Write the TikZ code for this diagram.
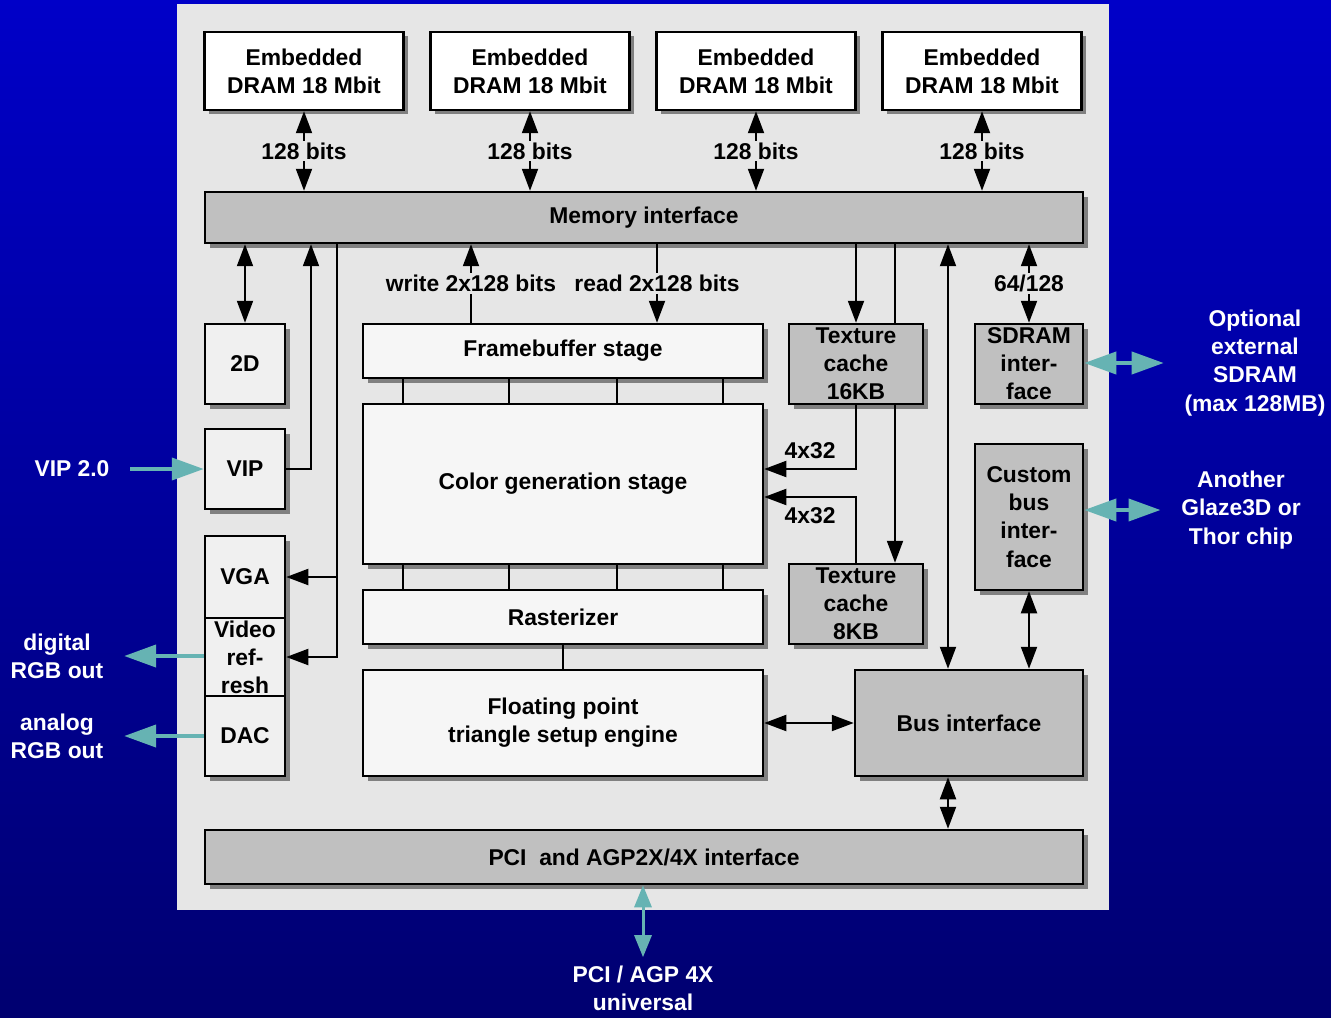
\documentclass[tikz,border=0pt]{standalone}
\usepackage{fontspec}
\setmainfont{Liberation Sans}
\usetikzlibrary{arrows.meta,shadows}

\definecolor{panelgray}{HTML}{E6E6E6}
\definecolor{boxlight}{HTML}{F0F0F0}
\definecolor{stagefill}{HTML}{F6F6F6}
\definecolor{boxdark}{HTML}{C0C0C0}
\definecolor{shadowgray}{HTML}{808080}
\definecolor{linkteal}{HTML}{66B3B3}
\definecolor{bgtop}{RGB}{0,0,200}
\definecolor{bgbottom}{RGB}{0,0,112}

\tikzset{
  wh/.style 2 args={minimum width=#1*0.02cm, minimum height=#2*0.02cm},
  box/.style={draw, line width=.05cm, inner sep=0pt, align=center,
    drop shadow={shadow xshift=.09cm, shadow yshift=-.09cm, fill=shadowgray, opacity=1}},
  ram/.style={box, fill=white},
  unit/.style={box, fill=boxlight},
  stagebox/.style={box, fill=stagefill},
  iface/.style={box, fill=boxdark},
  link/.style={line width=.04cm},
  lbl/.style={fill=panelgray, inner sep=1pt},
  note/.style={text=white, align=center, outer sep=.3cm},
  ext/.style={linkteal, line width=.08cm, >={Triangle[length=.64cm,width=.44cm]}},
  extv/.style={linkteal, line width=.06cm, >={Triangle[length=.44cm,width=.34cm]}}
}

\begin{document}
\begin{tikzpicture}[x=0.02cm, y=-0.02cm, font=\fontsize{13}{16}\selectfont\bfseries,
  >={Triangle[length=.44cm,width=.32cm]}]
\useasboundingbox (0,0) rectangle (1331,1017);
\shade[top color=bgtop, bottom color=bgbottom] (0,0) rectangle (1331,1017);
\fill[panelgray] (177,4) rectangle (1109,910);

% memories
\foreach \i/\x in {1/304,2/530,3/756,4/982}
  \node[ram, wh={199}{78}] (dram\i) at (\x,71) {Embedded\\DRAM 18 Mbit};
\node[iface, wh={878}{51}] (mem) at (644,217.5) {Memory interface};

% left column
\node[unit, wh={80}{80}] (twod) at (245,364) {2D};
\node[unit, wh={80}{80}] (vip) at (245,469) {VIP};
\node[unit, wh={80}{82}] (vga) at (245,577) {VGA};
\node[unit, wh={80}{78}] (vidref) at (245,657) {Video\\ref-\\resh};
\node[unit, wh={80}{80}] (dac) at (245,736) {DAC};

% pipeline
\node[stagebox, wh={400}{54}] (fb) at (563,351) {Framebuffer stage};
\node[stagebox, wh={400}{160}] (colgen) at (563,484) {Color generation stage};
\node[stagebox, wh={400}{54}] (rast) at (563,617) {Rasterizer};
\node[stagebox, wh={400}{106}] (fpu) at (563,723) {Floating point\\triangle setup engine};

% caches and interfaces
\node[iface, wh={134}{80}] (tex16) at (856,364) {Texture\\cache\\16KB};
\node[iface, wh={134}{80}] (tex8) at (856,604) {Texture\\cache\\8KB};
\node[iface, wh={108}{80}] (sdram) at (1029,364) {SDRAM\\inter-\\face};
\node[iface, wh={108}{146}] (custom) at (1029,517) {Custom\\bus\\inter-\\face};
\node[iface, wh={228}{106}] (busif) at (969,723) {Bus interface};
\node[iface, wh={878}{54}] (pci) at (644,857) {PCI~ and AGP2X/4X interface};

% outside
\node[note] (vipin) at (72,469) {VIP 2.0};
\node[note] (digout) at (57,656) {digital\\RGB out};
\node[note] (anaout) at (57,736) {analog\\RGB out};
\node[note] (extsdram) at (1255,363) {Optional\\external\\SDRAM\\(max 128MB)};
\node[note] (another) at (1241,510) {Another\\Glaze3D or\\Thor chip};
\node[note, outer sep=.05cm] (pcibus) at (643,988) {PCI / AGP 4X\\universal};

% connectors
\foreach \i in {1,...,4}
  \draw[link,<->] (dram\i.south) -- (dram\i.south |- mem.north) node[lbl, midway] {128 bits};
\draw[link,<->] (twod.north) -- (twod.north |- mem.south);
\draw[link,->] (vip.east) -| (311,0 |- mem.south);
\draw[link,->] (337,0 |- mem.south) |- (vga.east);
\draw[link,->] (337,0 |- mem.south) |- (vidref.east);
\draw[link,->] (471,0 |- fb.north) -- (471,0 |- mem.south) node[lbl, midway] {write 2x128 bits};
\draw[link,->] (657,0 |- mem.south) -- (657,0 |- fb.north) node[lbl, midway] {read 2x128 bits};
\foreach \x in {403,509,617,723} {
  \draw[link] (\x,0 |- fb.south) -- (\x,0 |- colgen.north);
  \draw[link] (\x,0 |- colgen.south) -- (\x,0 |- rast.north);
}
\draw[link] (rast) -- (fpu);
\draw[link,->] (tex16.north |- mem.south) -- (tex16.north);
\draw[link] (895,0 |- mem.south) -- (895,0 |- tex16.north);
\draw[link,->] (895,0 |- tex16.south) -- (895,0 |- tex8.north);
\draw[link,->] (tex16.south) |- ([yshift=.3cm]colgen.east) node[above=2pt, pos=.75] {4x32};
\draw[link,->] (tex8.north) |- ([yshift=-.26cm]colgen.east) node[below=2pt, pos=.75] {4x32};
\draw[link,<->] (948,0 |- mem.south) -- (948,0 |- busif.north);
\draw[link,<->] (sdram.north |- mem.south) -- (sdram.north) node[lbl, midway] {64/128};
\draw[link,<->] (custom.south) -- (custom.south |- busif.north);
\draw[link,<->] (fpu.east) -- (busif.west);
\draw[link,<->] (948,0 |- busif.south) -- (948,0 |- pci.north);

% external links
\draw[ext,->] (vipin.east) -- (vip.west |- vipin.east);
\draw[ext,->] (vidref.west |- digout.east) -- (digout.east);
\draw[ext,->] (dac.west |- anaout.east) -- (anaout.east);
\draw[ext,<->] (sdram.east |- extsdram.west) -- (extsdram.west);
\draw[ext,<->] (custom.east |- another.west) -- (another.west);
\draw[extv,<->] (pci.south -| pcibus) -- (pcibus.north);
\end{tikzpicture}
\end{document}
